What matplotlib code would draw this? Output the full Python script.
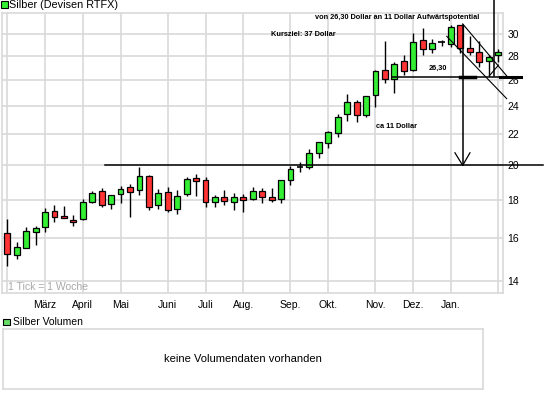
import numpy as np
import matplotlib
matplotlib.use("Agg")
import matplotlib.pyplot as plt
from matplotlib.patches import Rectangle

plt.rcParams['font.family'] = ['Liberation Sans', 'DejaVu Sans']

# weekly candles, Silber (Devisen RTFX)
opens = [16.22, 15.16, 15.50, 16.30, 16.53, 17.36, 17.10, 16.92, 16.94, 17.85,
         18.50, 17.74, 18.32, 18.70, 18.53, 19.38, 17.69, 18.42, 17.47, 18.30,
         19.21, 19.09, 17.85, 18.12, 17.85, 18.13, 18.02, 18.49, 18.12, 18.02,
         19.11, 19.90, 19.89, 20.77, 21.46, 22.10, 23.43, 24.32, 23.38, 24.87,
         26.81, 26.11, 27.58, 26.81, 29.48, 28.67, 29.24, 29.12, 30.82, 28.71,
         28.41, 27.62, 28.14]
highs = [16.94, 15.79, 16.53, 16.59, 17.54, 17.70, 17.65, 17.15, 18.04, 18.49,
         18.64, 18.24, 18.78, 18.90, 19.89, 19.43, 18.62, 18.68, 18.53, 19.32,
         19.48, 19.29, 18.25, 18.55, 18.36, 18.30, 18.68, 18.64, 18.64, 19.13,
         19.97, 20.18, 21.05, 21.49, 22.27, 23.43, 24.95, 24.49, 24.76, 26.84,
         29.36, 27.49, 28.11, 30.10, 30.57, 29.49, 29.48, 30.79, 30.82, 29.77,
         29.32, 28.15, 28.60]
lows = [14.68, 14.97, 15.48, 15.63, 16.30, 16.81, 16.98, 16.59, 16.90, 17.79,
        17.61, 17.50, 17.83, 17.07, 18.24, 17.40, 17.50, 17.31, 17.20, 18.22,
        18.20, 17.61, 17.58, 17.72, 17.43, 17.34, 18.00, 17.83, 17.85, 17.79,
        18.83, 19.57, 19.80, 20.49, 21.09, 21.82, 22.95, 22.86, 23.25, 23.94,
        25.79, 25.00, 26.46, 26.79, 28.11, 28.32, 28.91, 28.81, 28.32, 28.11,
        27.10, 26.38, 27.50]
closes = [15.20, 15.54, 16.32, 16.47, 17.34, 17.07, 16.99, 16.81, 17.85, 18.39,
          17.72, 18.24, 18.62, 18.42, 19.37, 17.61, 18.39, 17.40, 18.20, 19.15,
          19.05, 17.85, 18.13, 17.92, 18.12, 17.98, 18.49, 18.13, 17.97, 19.11,
          19.80, 19.90, 20.77, 21.49, 22.14, 23.21, 24.32, 23.33, 24.74, 26.79,
          26.11, 27.35, 26.79, 29.24, 28.67, 29.21, 29.24, 30.66, 28.71, 28.41,
          27.53, 27.96, 28.40]

month_weeks = [4, 8, 12, 17, 21, 25, 30, 34, 39, 43, 47]
month_labels = ['März', 'April', 'Mai', 'Juni', 'Juli', 'Aug.', 'Sep.', 'Okt.',
                'Nov.', 'Dez.', 'Jan.']
grid_weeks = [0] + month_weeks + [52]
price_ticks = [14, 16, 18, 20, 22, 24, 26, 28, 30]

GREEN = "#33ee33"
RED = "#ff3333"
GRID = "#d9d9d9"


def drawCandles(ax):
	x = np.arange(len(opens))
	o = np.array(opens)
	c = np.array(closes)
	ax.vlines(x, lows, highs, color="black", linewidth=1, zorder=2)
	for i in range(len(x)):
		if o[i] == c[i]:
			ax.hlines(o[i], x[i] - 0.35, x[i] + 0.35, color="black", linewidth=1.2, zorder=3)
			continue
		col = GREEN if c[i] > o[i] else RED
		ax.bar(x[i], abs(c[i] - o[i]), bottom=min(o[i], c[i]), width=0.62,
			color=col, edgecolor="black", linewidth=0.9, zorder=3)


def drawAnalysis(ax):
	# support / resistance
	ax.plot([10.35, 56.75], [20, 20], color="black", linewidth=1.1, clip_on=False, zorder=4)
	ax.plot([40.7, 54.4], [26.3, 26.3], color="black", linewidth=1.1, clip_on=False, zorder=4)
	ax.plot([47.96, 49.54], [26.3, 26.3], color="black", linewidth=2.5, zorder=4)
	ax.plot([52.19, 54.4], [26.3, 26.3], color="black", linewidth=2.2, clip_on=False, zorder=4)
	# downtrend channel
	ax.plot([48.24, 52.9], [30.94, 26.36], color="black", linewidth=0.8, clip_on=False, zorder=4)
	ax.plot([46.55, 52.9], [29.78, 24.57], color="black", linewidth=0.8, clip_on=False, zorder=4)
	ax.plot([51.06, 52.03], [26.36, 27.25], color="black", linewidth=0.8, zorder=4)
	ax.plot([51.56, 51.56], [33.35, 26.36], color="black", linewidth=1.1, clip_on=False, zorder=4)
	# target arrow
	ax.plot([48.24, 48.24], [30.82, 20], color="black", linewidth=1.1, zorder=4)
	ax.plot([47.42, 48.24, 49.01], [20.79, 20, 20.79], color="black", linewidth=0.9, zorder=4)

	narrow = ['Liberation Sans Narrow', 'Liberation Sans', 'DejaVu Sans']
	fs = 5.3
	ax.text(41.3, 31.6, "von 26,30 Dollar an 11 Dollar Aufwärtspotential", family=narrow,
		fontsize=fs, weight="bold", ha="center", va="center", zorder=5)
	ax.text(27.9, 29.93, "Kursziel: 37 Dollar", family=narrow, fontsize=fs,
		weight="bold", ha="left", va="center", zorder=5)
	ax.text(45.6, 26.95, "26,30", family=narrow, fontsize=fs, weight="bold",
		ha="center", va="center", zorder=5)
	ax.text(41.25, 22.55, "ca 11 Dollar", family=narrow, fontsize=fs, weight="bold",
		ha="center", va="center", zorder=5)


fig = plt.figure(figsize=(5.45, 3.98), dpi=100)
W, H = 545.0, 398.0

ax = fig.add_axes([2 / W, 1 - 293 / H, 501 / W, 280 / H])
ax.set_yscale("log")
ax.set_xlim(-0.56, 52.51)
ax.set_ylim(13.49, 32.0)

drawCandles(ax)
drawAnalysis(ax)

ax.set_yticks(price_ticks)
ax.set_yticklabels([str(t) for t in price_ticks])
ax.yaxis.set_minor_locator(matplotlib.ticker.NullLocator())
ax.yaxis.tick_right()
ax.set_xticks(grid_weeks)
ax.set_xticklabels([""] + month_labels + [""])
ax.tick_params(axis="both", length=0, labelsize=7.5, colors="black")
ax.tick_params(axis="y", pad=3)
ax.tick_params(axis="x", pad=5)
ax.grid(True, color=GRID, linewidth=1.2, zorder=0)
ax.set_axisbelow(True)
for s in ax.spines.values():
	s.set_color(GRID)
	s.set_linewidth(1.2)

ax.text(0.012, 0.022, "1 Tick = 1 Woche", transform=ax.transAxes, fontsize=7.5,
	color="#a8a8a8", ha="left", va="center")

# header legend
fig.patches.append(Rectangle((1 / W, 1 - 8 / H), 6.5 / W, 6.5 / H, transform=fig.transFigure,
	facecolor=GREEN, edgecolor="black", linewidth=0.8))
fig.text(9.3 / W, 1 - 5.5 / H, "Silber (Devisen RTFX)", fontsize=7.8, ha="left", va="center")

# volume panel
fig.patches.append(Rectangle((3.3 / W, 1 - 325 / H), 6.5 / W, 6.5 / H, transform=fig.transFigure,
	facecolor="#66dd66", edgecolor="black", linewidth=0.8))
fig.text(12.7 / W, 1 - 321.7 / H, "Silber Volumen", fontsize=7.5, ha="left", va="center")

ax2 = fig.add_axes([2.7 / W, 1 - 389.3 / H, 480 / W, 60 / H])
ax2.set_xticks([])
ax2.set_yticks([])
for s in ax2.spines.values():
	s.set_color(GRID)
	s.set_linewidth(1.2)
ax2.text(0.5, 0.5, "keine Volumendaten vorhanden", transform=ax2.transAxes,
	fontsize=8, ha="center", va="center")

fig.savefig("out.png", dpi=100)
